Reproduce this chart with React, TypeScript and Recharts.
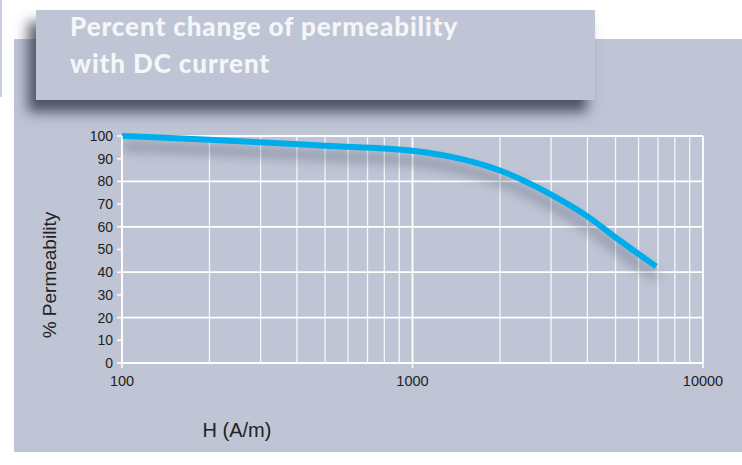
import React from "react";
import { LineChart, Line, XAxis, YAxis, CartesianGrid, ReferenceLine } from "recharts";

const hValues = [100, 200, 500, 1000, 1350, 2000, 3000, 4000, 5000, 6000, 6900];
const permeability = [100, 98.4, 95.7, 93.5, 90.9, 84.8, 74.2, 64.6, 55.3, 48, 42.5];
const xTicks = [100, 1000, 10000];
const xMinorGrid = [200, 300, 400, 500, 600, 700, 800, 900, 2000, 3000, 4000, 5000, 6000, 7000, 8000, 9000];
const yTicks = [0, 10, 20, 30, 40, 50, 60, 70, 80, 90, 100];

const data = hValues.map((h, i) => ({ h, p: permeability[i] }));

const BG = "#bfc5d5";

export default function App() {
  return (
    <div style={{ position: "absolute", left: 0, top: 0, width: 742, height: 465, background: "#ffffff", overflow: "hidden" }}>
      <style>{`.perm-line .recharts-line-curve { filter: drop-shadow(0px 10px 6px rgba(70,78,100,0.6)); }`}</style>
      <div style={{ position: "absolute", left: 0, top: 0, width: 2, height: 97, background: "#c9cee0" }} />
      <div style={{ position: "absolute", left: 14, top: 39, width: 728, height: 413, background: BG }} />
      <div style={{ position: "absolute", left: 0, top: 0 }}>
        <LineChart width={742} height={465} data={data} margin={{ top: 136, right: 39, bottom: 72, left: 62 }}>
          <CartesianGrid stroke="#ffffff" strokeWidth={1.8} vertical={true} horizontal={true} />
          {xMinorGrid.map((v) => (
            <ReferenceLine key={v} x={v} stroke="#ffffff" strokeWidth={1.3} strokeOpacity={0.85} />
          ))}
          <XAxis
            dataKey="h"
            type="number"
            scale="log"
            domain={[100, 10000]}
            ticks={xTicks}
            allowDataOverflow
            height={30}
            tickSize={5}
            tickMargin={8}
            axisLine={{ stroke: "#ffffff", strokeWidth: 1.5 }}
            tickLine={{ stroke: "#ffffff", strokeWidth: 1.5 }}
            tick={{ fill: "#222222", fontSize: 14.5, fontFamily: "Liberation Sans, Arial, sans-serif" }}
          />
          <YAxis
            type="number"
            domain={[0, 100]}
            ticks={yTicks}
            width={60}
            tickSize={5}
            tickMargin={4}
            axisLine={{ stroke: "#ffffff", strokeWidth: 1.5 }}
            tickLine={{ stroke: "#ffffff", strokeWidth: 1.5 }}
            tick={{ fill: "#222222", fontSize: 14, fontFamily: "Liberation Sans, Arial, sans-serif" }}
          />
          <Line
            className="perm-line"
            type="monotone"
            dataKey="p"
            stroke="#00adeb"
            strokeWidth={6}
            dot={false}
            activeDot={false}
            isAnimationActive={false}
          />
        </LineChart>
      </div>
      <div
        style={{
          position: "absolute",
          left: 36,
          top: 10,
          width: 559,
          height: 90,
          background: BG,
          boxShadow: "-8px 12px 12px rgba(40,45,62,0.75)",
        }}
      >
        <div
          style={{
            position: "absolute",
            left: 34,
            top: -2,
            color: "#f5f6f9",
            fontFamily: "Lato, 'Open Sans', sans-serif",
            fontWeight: 900,
            fontSize: 26,
            letterSpacing: 0.9,
            lineHeight: "37px",
            whiteSpace: "nowrap",
          }}
        >
          Percent change of permeability
          <br />
          with DC current
        </div>
      </div>
      <div
        style={{
          position: "absolute",
          left: 50,
          top: 275,
          transform: "translate(-50%, -50%) rotate(-90deg)",
          fontFamily: "Liberation Sans, Arial, sans-serif",
          fontSize: 19,
          color: "#222222",
          whiteSpace: "nowrap",
        }}
      >
        % Permeability
      </div>
      <div
        style={{
          position: "absolute",
          left: 237,
          top: 430,
          transform: "translate(-50%, -50%)",
          fontFamily: "Liberation Sans, Arial, sans-serif",
          fontSize: 20,
          color: "#222222",
          whiteSpace: "nowrap",
        }}
      >
        H (A/m)
      </div>
    </div>
  );
}
